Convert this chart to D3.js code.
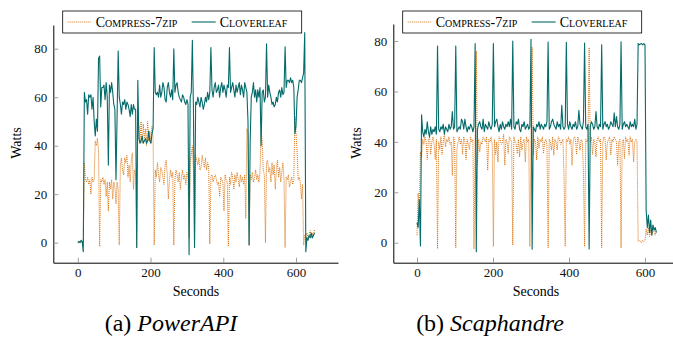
<!DOCTYPE html>
<html>
<head>
<meta charset="utf-8">
<script src="https://cdn.jsdelivr.net/npm/d3@7"></script>
<style>
  body { margin: 0; background: #fff; }
</style>
</head>
<body>
<div id="chart"></div>
<script>
// Readings are one every STEP seconds, starting at t = 0
const STEP = 3;

const seriesNames = ["Compress-7zip", "Cloverleaf"];
const xTicks = [0, 200, 400, 600];
const yTicks = [0, 20, 40, 60, 80];
const captions = [["(a) ", "PowerAPI"], ["(b) ", "Scaphandre"]];

// (a) PowerAPI - watts
const powerapiCompress = [
    0, 0, 0.5, 0, 0.5, 0, 33, 26, 25, 27,
    24, 26, 20, 27, 25, 26, 42, 40, 43, 38,
    -1.6, 26, 25, 27, 24, 26, 19, 25, 13, 25,
    22, 26, 18, 25, 23, 16, 25, 22, -1, 32,
    35, 30, 28, 35, 33, 36, 27, 32, 25, 34,
    37, 22, 30, 28, -2, 45, 48, 42, 50, 41,
    49, 43, 47, 40, 50, 42, 46, 41, 48, 43,
    -1, 30, 27, 33, 28, 25, 31, 30, 27, 24,
    32, 34, 28, 18, 26, 30, 27, 29, -1, 26,
    30, 28, 25, 29, 22, 27, 30, 26, 28, 24,
    29, 27, 2, 33, 36, 40, 30, 0, 36, 34,
    32, 35, 30, 31, 36, 33, 31, 35, 30, 33,
    31, -0.5, 27, 28, 25, 27, 28, 26, 24, 25,
    19, 27, 26, 25, 13, 28, 26, 25, -1.5, 27,
    24, 29, 27, 22, 28, 25, 29, 26, 23, 28,
    25, 27, 24, 28, 10, 47, 45, -1, 28, 26,
    29, 25, 27, 30, 26, 28, 25, 29, 46, 42,
    30, 28, 0, 33, 34, 29, 31, 25, 33, 28,
    32, 22, 30, 34, 27, 31, 25, 29, 33, 26,
    -2, 27, 26, 28, 23, 25, 27, 24, 26, 52,
    45, 38, 26, 27, 25, 18, 24, -1, 3, 2,
    4, 2, 3, 5, 2, 4, 3, 5.5
];
const powerapiCloverleaf = [
    0, 0.5, 0, 1, 0.5, -3.7, 62, 58, 59, 53,
    61, 60, 61, 55, 60, 50, 44, 51, 46, 76,
    77, 56, 64, 64, 65, 59, 66, 60, 32, 65,
    62, 66, 62, 57, 55, 26, 52, 79, 60, 57,
    53, 58, 57, 59, 55, 58, 57, 55, 52, 57,
    53, 57, 55, 55, -2, 67, 43, 41, 42, 44,
    41, 42, 43, 41, 42, 46, 42, 41, 45, 47,
    80.5, 62, 61, 62, 60, 65, 60, 62, 66, 64,
    59, 58, 64, 66, 62, 60, 63, 59, 80, 62,
    65, 66, 62, 60, 59, 58, 61, 60, 58, 57,
    59, 57, -5, 60, 62, 83.5, 55, -2, 58, 57,
    60, 58, 56, 60, 58, 55, 57, 60, 58, 62,
    59, 62, 80.5, 63, 60, 64, 66, 62, 63, 65,
    60, 64, 66, 62, 65, 63, 60, 65, 64, 80.5,
    62, 64, 66, 63, 60, 65, 62, 64, 66, 61,
    65, 63, 60, 66, 64, 62, 50, -1, 42, 60,
    62, 66, 60, 63, 58, 63, 60, 64, 40, 62,
    63, 58, 60, 82, 60, 65, 62, 60, 57, 58,
    56, 57, 60, 58, 62, 63, 60, 64, 61, 62,
    80.8, 64, 67, 67, 66, 68, 66, 67, 64, 45,
    48, 60, 63, 67, 67, 66, 68, 70, 86.7, -3.7,
    2, 1, 3, 2, 4, 2, 3, 4
];

// (b) Scaphandre - watts
const scaphandreCompress = [
    3, 19.7, 12, 36, 34, 41, 39, 42, 40, 33,
    41, 42, 35, 40, 42, 39, 33, 41, -2.4, 40,
    37, 42, 35, 40, 43, 38, 41, 40, 42, 39,
    40, 26.7, 42, 41, -2, 37, 40, 42, 39, 41,
    35, 42, 40, 33, 41, 39, 37, 42, 40, 41,
    -2.5, 40, 76, 31, 41, 36, 40, 39, 42, 41,
    40, 42, 28.7, 41, 40, 42, 39, -1.5, 41, 35,
    40, 32, 42, 41, 39, 40, 43, 30.7, 41, 40,
    35.4, 42, 41, 40, -1, 42, 40, 39, 35.4, 41,
    34, 42, 36.7, 40, 41, 32, 42, 40, 41, -1.5,
    40, 77.5, 34.7, 41, 40, 32.8, 42, 37.4, 41, 40,
    42, 35.4, 40, 41, 39, -2, 41, 40, 36.7, 42,
    34.7, 41, 40, 36.7, 42, 41, 39, 40, 41, 25.7,
    -1.5, 41, 40, 42, 39, 41, 30.7, 40, 42, 41,
    35, 42, 40, 36.7, 41, 40, 28, -1.5, 41, 40,
    41, 77.4, 40, 42, 35, 41, 40, 34, 41, 42,
    40, 41, -2, 40, 42, 41, 32.8, 40, 41, 42,
    34.7, 41, 40, 42, 41, 40, 30.7, 40, 41, -2,
    40, 41, 33.4, 42, 40, 41, 34.7, 42, 40, 41,
    32, 40, 41, 40, 0.5, 1, 0.5, 0, 1, 0.5,
    1, 5.5, 3, 6, 2.5, 5, 3, 7, 4, 3,
    5
];
const scaphandreCloverleaf = [
    8, 6, 17, -1.3, 50.7, 44, 42, 45, 43, 48,
    44, 42, 46, 43, 45, 44, 46, 43, 78, 45,
    44, 46, 45, 47, 43, 46, 45, 44, 47, 45,
    46, 52, 45, 46, 78, 44, 45, 46, 45, 49,
    48, 45, 49, 46, 44, 46, 45, 47, 46, 44,
    46, 79, -3.6, 45, 47, 48, 46, 45, 49, 44,
    47, 46, 45, 48, 46, 45, 47, 79, 46, 48,
    49, 46, 44, 47, 45, 48, 46, 45, 47, 46,
    48, 46, 49, 45, 80, 46, 45, 48, 47, 49,
    45, 44, 47, 46, 48, 45, 46, 47, 45, 46,
    80.7, -2.6, 46, 45, 44, 47, 46, 48, 45, 47,
    46, 45, 47, 46, 48, 79.6, 45, 46, 48, 49,
    47, 46, 45, 48, 46, 47, 45, 54.5, 46, 45,
    46, 79.5, 47, 45, 48, 46, 45, 47, 46, 48,
    45, 46, 52.5, 47, 46, 45, 48, 79.2, 46, 45,
    47, -2.5, 46, 48, 47, 45, 46, 52, 46, 45,
    47, 46, 78.5, 45, 47, 48, 46, 47, 45, 46,
    48, 47, 46, 51.5, 46, 50, 46, 45, 47, 79.7,
    45, 47, 48, 46, 47, 46, 45, 48, 46, 47,
    46, 49, 45, 47, 79, 78.5, 78.8, 79, 78.5, 79,
    78.5, 13, 6, 11, 4, 9, 3, 7, 5, 6,
    4
];

const ORANGE = "#d9730d";
const TEAL = "#056b6b";

// Pick the first serif face the browser actually has
function pickFont(candidates) {
    const ctx = document.createElement("canvas").getContext("2d");
    const probe = "Watts Seconds PowerAPI 0123456789";
    ctx.font = "40px monospace";
    const base = ctx.measureText(probe).width;
    for (const f of candidates) {
        ctx.font = `40px "${f}", monospace`;
        if (Math.abs(ctx.measureText(probe).width - base) > 0.5) return `"${f}", serif`;
    }
    return "serif";
}
const FONT = pickFont(["Liberation Serif", "Times New Roman", "Tinos", "DejaVu Serif",
    "Noto Serif", "Nimbus Roman", "FreeSerif", "Times", "Georgia"]);

const width = 673, height = 339;

const svg = d3.select("#chart")
    .append("svg")
    .attr("width", width)
    .attr("height", height)
    .style("display", "block");

svg.append("rect").attr("width", width).attr("height", height).attr("fill", "#fff");

// Layout of the two panels
const panels = [
    {
        compress: powerapiCompress, clover: powerapiCloverleaf, caption: captions[0],
        left: 53.3, right: 338, top: 25, bottom: 262.7,
        xDomain: [-67.4, 715.5], yDomain: [-8.25, 89.77],
        legendX: 62.7, yLabelX: 21, xLabelX: 196, captionX: 171
    },
    {
        compress: scaphandreCompress, clover: scaphandreCloverleaf, caption: captions[1],
        left: 393.3, right: 673, top: 24, bottom: 262.7,
        xDomain: [-62.4, 673.7], yDomain: [-7.93, 86.75],
        legendX: 402.7, yLabelX: 361, xLabelX: 536, captionX: 490
    }
];

panels.forEach(p => drawPanel(p));

function drawPanel(p) {
    const x = d3.scaleLinear().domain(p.xDomain).range([p.left, p.right]);
    const y = d3.scaleLinear().domain(p.yDomain).range([p.bottom, p.top]);
    const g = svg.append("g").style("font-family", FONT);

    const line = d3.line()
        .x((d, i) => x(i * STEP))
        .y(d => y(d));

    // Traces
    g.append("path")
        .datum(p.compress)
        .attr("fill", "none")
        .attr("stroke", ORANGE)
        .attr("stroke-width", 1)
        .attr("stroke-dasharray", "1 1")
        .attr("d", line);

    g.append("path")
        .datum(p.clover)
        .attr("fill", "none")
        .attr("stroke", TEAL)
        .attr("stroke-width", 1.1)
        .attr("stroke-linejoin", "round")
        .attr("d", line);

    // Axes (ticks point inwards)
    const yAxis = g.append("g")
        .attr("transform", `translate(${p.left},0)`)
        .call(d3.axisLeft(y).tickValues(yTicks).tickSize(-5).tickSizeOuter(0).tickPadding(6));
    const xAxis = g.append("g")
        .attr("transform", `translate(0,${p.bottom})`)
        .call(d3.axisBottom(x).tickValues(xTicks).tickSize(-5).tickSizeOuter(0).tickPadding(5));

    [yAxis, xAxis].forEach(a => {
        a.attr("font-family", null).attr("font-size", 13).style("font-family", FONT);
        a.select(".domain").attr("stroke", "#000").attr("stroke-width", 1);
        a.selectAll(".tick line").attr("stroke", "#888").attr("stroke-width", 0.8);
        a.selectAll(".tick text").attr("fill", "#111");
    });

    // Axis titles
    g.append("text")
        .attr("transform", `translate(${p.yLabelX},143) rotate(-90)`)
        .attr("text-anchor", "middle")
        .attr("font-size", 14)
        .text("Watts");

    g.append("text")
        .attr("x", p.xLabelX)
        .attr("y", 296)
        .attr("text-anchor", "middle")
        .attr("font-size", 14)
        .text("Seconds");

    // Legend
    const leg = g.append("g").attr("transform", `translate(${p.legendX},11)`);
    leg.append("rect")
        .attr("width", 239).attr("height", 22)
        .attr("fill", "#fff").attr("stroke", "#000").attr("stroke-width", 0.8);

    const items = [
        { name: seriesNames[0], color: ORANGE, dash: "1 1", x: 5 },
        { name: seriesNames[1], color: TEAL, dash: null, x: 129 }
    ];
    items.forEach(it => {
        leg.append("line")
            .attr("x1", it.x).attr("x2", it.x + 24)
            .attr("y1", 11).attr("y2", 11)
            .attr("stroke", it.color)
            .attr("stroke-width", 1.1)
            .attr("stroke-dasharray", it.dash);
        leg.append("text")
            .attr("x", it.x + 28)
            .attr("y", 15.5)
            .attr("font-size", 14)
            .style("font-variant", "small-caps")
            .text(it.name);
    });

    // Caption
    const cap = svg.append("text")
        .attr("x", p.captionX)
        .attr("y", 331)
        .attr("text-anchor", "middle")
        .style("font-family", FONT)
        .attr("font-size", 24);
    cap.append("tspan").text(p.caption[0]);
    cap.append("tspan").attr("font-style", "italic").text(p.caption[1]);
}
</script>
</body>
</html>
